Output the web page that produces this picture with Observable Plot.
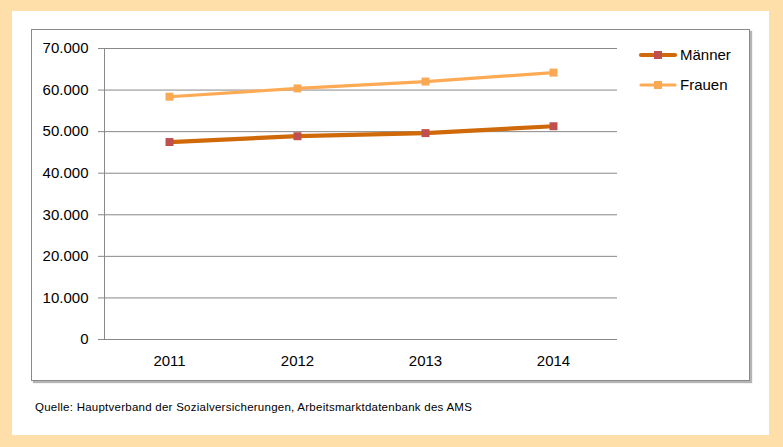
<!DOCTYPE html>
<html><head><meta charset="utf-8">
<script src="https://cdn.jsdelivr.net/npm/d3@7"></script>
<script src="https://cdn.jsdelivr.net/npm/@observablehq/plot@0.6"></script>
<style>
body{margin:0;width:783px;height:447px;background:#FEDFA9;position:relative;overflow:hidden;font-family:"Liberation Sans",Arial,sans-serif}
#white{position:absolute;left:12px;top:11px;width:757px;height:424px;background:#fff}
#box{position:absolute;left:31px;top:29px;width:717px;height:350px;border:1px solid #8a8a8a;box-shadow:2px 2px 1px #b4b4b4}
#chart{position:absolute;left:0;top:0}
#legend{position:absolute;left:0;top:0}
#caption{position:absolute;left:35px;top:401px;font-size:11.5px;letter-spacing:0.25px;color:#000;white-space:nowrap}
</style></head><body>
<div id="white"></div>
<div id="box"></div>
<div id="chart"></div>
<svg id="legend" width="783" height="120"></svg>
<div id="caption">Quelle: Hauptverband der Sozialversicherungen, Arbeitsmarktdatenbank des AMS</div>
<script>
const years = ["2011", "2012", "2013", "2014"];
const maenner = [47500, 48900, 49650, 51300];
const frauen = [58400, 60400, 62050, 64200];
const yTicks = [0, 10000, 20000, 30000, 40000, 50000, 60000, 70000];
const seriesNames = ["Männer", "Frauen"];

const colM = "#D0690A", colMMark = "#C0504D";
const colF = "#FDAA55", colFMark = "#F9A953";

const de = d3.formatLocale({decimal: ",", thousands: ".", grouping: [3], currency: ["", "€"]});
const fmt = de.format(",");

const dataM = years.map((y, i) => ({year: y, value: maenner[i]}));
const dataF = years.map((y, i) => ({year: y, value: frauen[i]}));

const yAxisLine = (index, scales, values, dims) => {
  const g = d3.create("svg:g");
  g.append("line")
    .attr("x1", dims.marginLeft + 0.5).attr("x2", dims.marginLeft + 0.5)
    .attr("y1", scales.y(70000)).attr("y2", scales.y(0))
    .attr("stroke", "#888").attr("stroke-width", 1);
  return g.node();
};

const chart = Plot.plot({
  width: 783, height: 447,
  marginLeft: 104, marginRight: 166, marginTop: 48, marginBottom: 108,
  x: {type: "point", domain: years, padding: 0.5},
  y: {domain: [0, 70000]},
  style: {background: "transparent", fontFamily: "'Liberation Sans', Arial, sans-serif", fontSize: "15px", color: "#000", overflow: "visible"},
  marks: [
    Plot.ruleY(yTicks, {stroke: "#888", strokeWidth: 1}),
    yAxisLine,
    Plot.axisY({ticks: yTicks, tickSize: 6, tickPadding: 10, tickFormat: fmt, stroke: "#888", fill: "#000", label: null}),
    Plot.axisX({tickSize: 0, tickPadding: 16, fill: "#000", label: null}),
    Plot.line(dataF, {x: "year", y: "value", stroke: colF, strokeWidth: 3.2}),
    Plot.line(dataM, {x: "year", y: "value", stroke: colM, strokeWidth: 4.2}),
    Plot.dot(dataF, {x: "year", y: "value", symbol: "square", r: 4.5, fill: colFMark, stroke: null}),
    Plot.dot(dataM, {x: "year", y: "value", symbol: "square", r: 4.5, fill: colMMark, stroke: null})
  ]
});
document.getElementById("chart").appendChild(chart);

const leg = d3.select("#legend");
const items = [
  {name: seriesNames[0], line: colM, mark: colMMark, w: 4.2, y: 55},
  {name: seriesNames[1], line: colF, mark: colFMark, w: 3.2, y: 85}
];
items.forEach(it => {
  leg.append("line").attr("x1", 641).attr("x2", 675).attr("y1", it.y).attr("y2", it.y)
    .attr("stroke", it.line).attr("stroke-width", it.w).attr("stroke-linecap", "round");
  leg.append("rect").attr("x", 654).attr("y", it.y - 4).attr("width", 8).attr("height", 8).attr("fill", it.mark);
  leg.append("text").attr("x", 680).attr("y", it.y).attr("dy", "0.35em")
    .attr("font-size", 15).attr("font-family", "'Liberation Sans', Arial, sans-serif").attr("fill", "#000").text(it.name);
});
</script>
</body></html>
